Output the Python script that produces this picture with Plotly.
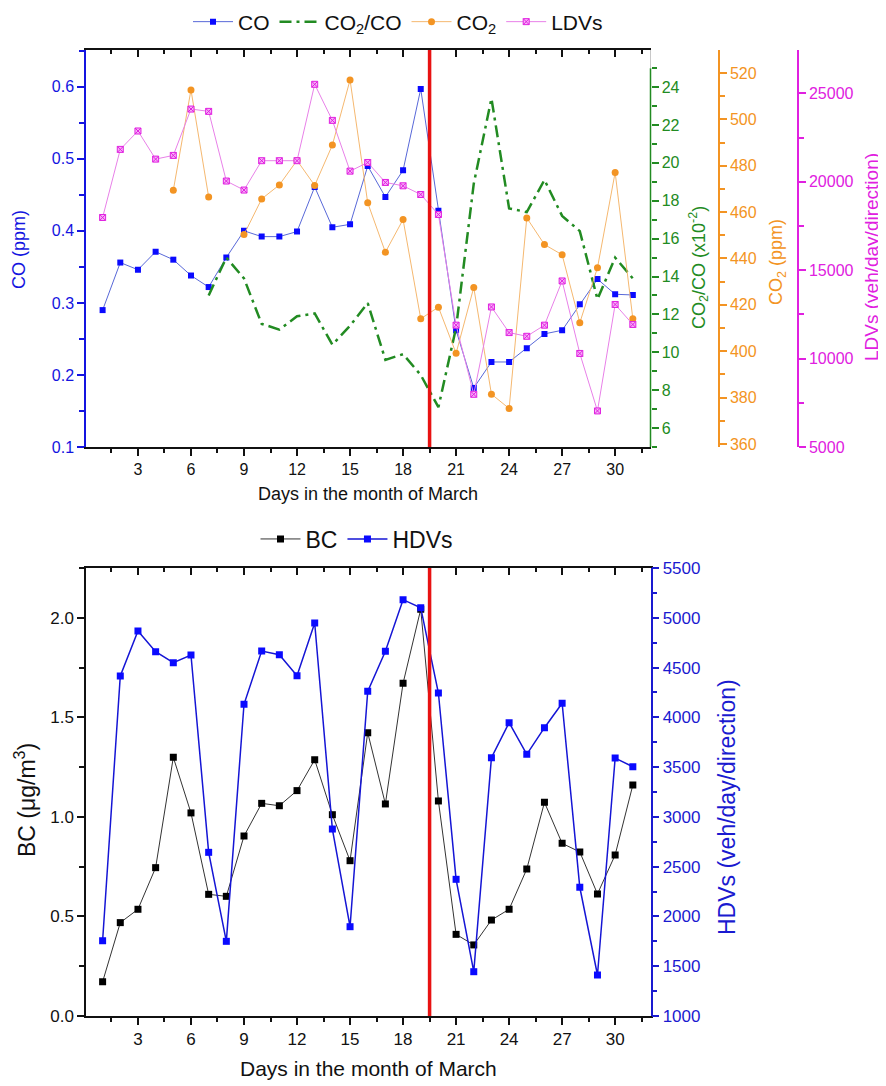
import plotly.graph_objects as go

# ---------------- data ----------------
days = list(range(1, 32))

co_ppm = [0.290, 0.356, 0.346, 0.371, 0.360, 0.338, 0.322, 0.363, 0.400, 0.392,
          0.392, 0.399, 0.461, 0.405, 0.409, 0.490, 0.447, 0.484, 0.597, 0.428,
          0.262, 0.182, 0.218, 0.218, 0.237, 0.257, 0.262, 0.298, 0.333, 0.312, 0.311]

co2_co_ratio = [None, None, None, None, None, None,
                13.0, 15.0, 13.9, 11.5, 11.2, 11.9, 12.05, 10.4, 11.4, 12.6,
                9.6, 9.9, 8.8, 7.1, 11.3, 18.9, 23.4, 17.6, 17.4, 19.1,
                17.2, 16.4, 12.8, 15.0, 13.9]

co2_ppm = [None, None, None, None, 469.4, 512.7, 466.5, None, 450.3, 465.7,
           471.7, 482.3, 471.5, 488.9, 517.0, 464.0, 442.7, 456.8, 414.0, 419.0,
           399.1, 427.5, 381.5, 375.3, 457.5, 446.0, 441.6, 412.3, 436.0, 477.1, 414.0]

ldvs = [17980, 21830, 22870, 21280, 21490, 24110, 23980, 20040, 19530, 21190,
        21190, 21190, 25510, 23470, 20600, 21090, 19960, 19770, 19280, 18150,
        11890, 7980, 12920, 11470, 11260, 11890, 14390, 10290, 7040, 13060, 11930]

bc = [0.172, 0.469, 0.536, 0.745, 1.299, 1.020, 0.611, 0.601, 0.904, 1.068,
      1.056, 1.132, 1.287, 1.011, 0.780, 1.423, 1.065, 1.671, 2.043, 1.080,
      0.410, 0.357, 0.482, 0.536, 0.738, 1.073, 0.867, 0.824, 0.613, 0.809, 1.160]

hdvs = [1756, 4415, 4867, 4659, 4549, 4626, 2644, 1750, 4131, 4666,
        4629, 4418, 4947, 2878, 1897, 4261, 4663, 5182, 5101, 4244,
        2373, 1445, 3595, 3946, 3628, 3896, 4141, 2293, 1412, 3591, 3504]

transition_day = 19.5

# ---------------- styling ----------------
PAGE_OFFSET = 8          # default body margin of the html page
W, H = 886 - PAGE_OFFSET, 1086 - PAGE_OFFSET
FONT = "Liberation Sans, Arial, sans-serif"
BLUE = "#1414e0"
GREEN = "#228b22"
ORANGE = "#f39423"
MAGENTA = "#e020e0"
BLACK = "#111111"
RED = "#e81212"
HDV_BLUE = "#1a1ad0"

def px_x(p):
    return (p - PAGE_OFFSET) / W

def px_y(p):
    return 1 - (p - PAGE_OFFSET) / H

XD = [px_x(86), px_x(650.5)]
TOP_YD = [px_y(447), px_y(50)]
BOT_YD = [px_y(1016), px_y(568)]
XRANGE = [0.06, 32.0]

fig = go.Figure()

# ---------------- top chart traces ----------------
fig.add_trace(go.Scatter(x=days, y=co_ppm, name="CO", xaxis="x", yaxis="y",
                         mode="lines+markers",
                         line=dict(color="#5868d8", width=1),
                         marker=dict(symbol="square", size=6, color="#0a0aff")))
fig.add_trace(go.Scatter(x=days, y=co2_co_ratio, name="CO<sub>2</sub>/CO", xaxis="x", yaxis="y2",
                         mode="lines",
                         line=dict(color=GREEN, width=2.5, dash="12px,5px,3px,5px")))
fig.add_trace(go.Scatter(x=days, y=co2_ppm, name="CO<sub>2</sub>", xaxis="x", yaxis="y3",
                         mode="lines+markers",
                         line=dict(color="#f5b870", width=1),
                         marker=dict(symbol="circle", size=7, color=ORANGE)))
fig.add_trace(go.Scatter(x=days, y=ldvs, name="LDVs", xaxis="x", yaxis="y4",
                         mode="lines+markers",
                         line=dict(color="#e880e8", width=1),
                         marker=dict(symbol="square-x", size=6, color="#f8b0f8",
                                     line=dict(color=MAGENTA, width=1))))
# helper for inward top ticks
fig.add_trace(go.Scatter(x=[], y=[], xaxis="x3", yaxis="y", showlegend=False, hoverinfo="skip"))

# ---------------- bottom chart traces ----------------
fig.add_trace(go.Scatter(x=days, y=bc, name="BC", xaxis="x2", yaxis="y5",
                         mode="lines+markers", legend="legend2",
                         line=dict(color="#333333", width=1),
                         marker=dict(symbol="square", size=7, color="#000000")))
fig.add_trace(go.Scatter(x=days, y=hdvs, name="HDVs", xaxis="x2", yaxis="y6",
                         mode="lines+markers", legend="legend2",
                         line=dict(color="#1515d5", width=1.5),
                         marker=dict(symbol="square", size=7, color="#0a0aff")))
fig.add_trace(go.Scatter(x=[], y=[], xaxis="x4", yaxis="y5", showlegend=False, hoverinfo="skip"))

def xaxis_common(tick_size, show_labels=True, side="bottom", ticks="outside"):
    return dict(domain=XD, range=XRANGE, tickmode="linear", tick0=0, dtick=3,
                ticks=ticks, ticklen=7, tickwidth=1.5, tickcolor=BLACK,
                showline=True, linecolor=BLACK, linewidth=1.5,
                showgrid=False, zeroline=False, side=side,
                showticklabels=show_labels, automargin=False,
                tickfont=dict(size=tick_size, color=BLACK, family=FONT),
                minor=dict(dtick=1.5, tick0=0, ticks=ticks, ticklen=4,
                           tickwidth=1.5, tickcolor=BLACK))

def yaxis_common(color, rng, tick0, dtick, mdtick, tick_size, fmt=None):
    d = dict(range=rng, tickmode="linear", tick0=tick0, dtick=dtick,
             ticks="outside", ticklen=7, tickwidth=1.5, tickcolor=color,
             showline=True, linecolor=color, linewidth=1.5,
             showgrid=False, zeroline=False, automargin=False,
             tickfont=dict(size=tick_size, color=color, family=FONT),
             minor=dict(dtick=mdtick, tick0=tick0, ticks="outside", ticklen=5,
                        tickwidth=1.5, tickcolor=color))
    if fmt:
        d["tickformat"] = fmt
    return d

layout = dict(
    width=W, height=H,
    margin=dict(l=0, r=0, t=0, b=0, pad=0, autoexpand=False),
    paper_bgcolor="white", plot_bgcolor="rgba(0,0,0,0)",
    font=dict(family=FONT, color=BLACK),
)

# top chart axes
layout["xaxis"] = dict(xaxis_common(16), anchor="y")
layout["xaxis3"] = dict(xaxis_common(16, show_labels=False, side="top", ticks="inside"),
                        overlaying="x", anchor="y")
layout["yaxis"] = dict(yaxis_common(BLUE, [0.1, 0.651], 0.1, 0.1, 0.05, 16, ".1f"),
                       domain=TOP_YD, anchor="x", side="left")
g = yaxis_common(GREEN, [5, 25.96], 6, 2, 1, 16)
g["showline"] = False
g["minor"]["tick0"] = 5
layout["yaxis2"] = dict(g, overlaying="y", anchor="x", side="right")
layout["yaxis3"] = dict(yaxis_common(ORANGE, [358.7, 529.9], 360, 20, 10, 16),
                        overlaying="y", anchor="free", position=px_x(719), side="right")
layout["yaxis4"] = dict(yaxis_common(MAGENTA, [5000, 27450], 5000, 5000, 2500, 16, "d"),
                        overlaying="y", anchor="free", position=px_x(798), side="right")

# bottom chart axes
layout["xaxis2"] = dict(xaxis_common(17), anchor="y5")
layout["xaxis4"] = dict(xaxis_common(17, show_labels=False, side="top", ticks="inside"),
                        overlaying="x2", anchor="y5")
layout["yaxis5"] = dict(yaxis_common(BLACK, [0, 2.25], 0, 0.5, 0.25, 17, ".1f"),
                        domain=BOT_YD, anchor="x2", side="left")
layout["yaxis6"] = dict(yaxis_common(HDV_BLUE, [1000, 5500], 1000, 500, 250, 17, "d"),
                        overlaying="y5", anchor="x2", side="right")

layout["legend"] = dict(orientation="h", x=px_x(398), y=px_y(22), xanchor="center",
                        yanchor="middle", font=dict(size=21, family=FONT, color=BLACK),
                        bgcolor="rgba(0,0,0,0)", itemwidth=40)
layout["legend2"] = dict(orientation="h", x=px_x(357), y=px_y(539), xanchor="center",
                         yanchor="middle", font=dict(size=23, family=FONT, color=BLACK),
                         bgcolor="rgba(0,0,0,0)", itemwidth=40)

shapes = [
    # red separator lines
    dict(type="line", xref="x", yref="y domain", x0=transition_day, x1=transition_day,
         y0=0, y1=1, line=dict(color=RED, width=3.5)),
    dict(type="line", xref="x2", yref="y5 domain", x0=transition_day, x1=transition_day,
         y0=0, y1=1, line=dict(color=RED, width=3.5)),
    # green axis line (shorter than frame) and grey frame cap
    dict(type="line", xref="paper", yref="y2", x0=XD[1], x1=XD[1], y0=5, y1=25,
         line=dict(color=GREEN, width=1.5)),
    dict(type="line", xref="paper", yref="y2", x0=XD[1], x1=XD[1], y0=25, y1=25.96,
         line=dict(color="#c8c8c8", width=1)),
]
layout["shapes"] = shapes

def title_ann(text, xp, yp, size, color, angle=-90):
    return dict(text=text, x=px_x(xp), y=px_y(yp), xref="paper", yref="paper",
                xanchor="center", yanchor="middle", showarrow=False, textangle=angle,
                font=dict(size=size, color=color, family=FONT))

layout["annotations"] = [
    title_ann("CO (ppm)", 19, 250, 18, BLUE),
    title_ann("CO<sub>2</sub>/CO (x10<sup>-2</sup>)", 698, 268, 18, GREEN),
    title_ann("CO<sub>2</sub> (ppm)", 777, 262, 18, ORANGE),
    title_ann("LDVs (veh/day/direction)", 872, 257, 19, MAGENTA),
    title_ann("Days in the month of March", 368, 494, 18, BLACK, 0),
    title_ann("BC (μg/m<sup>3</sup>)", 25, 800, 23, BLACK),
    title_ann("HDVs (veh/day/direction)", 727, 807, 23, HDV_BLUE),
    title_ann("Days in the month of March", 368, 1068, 21, BLACK, 0),
]

fig.update_layout(**layout)
fig.write_html("out.html")
